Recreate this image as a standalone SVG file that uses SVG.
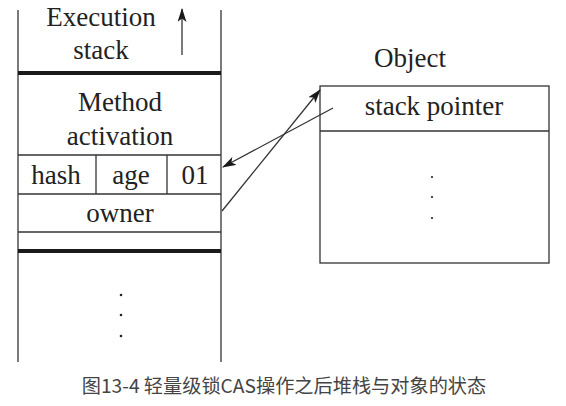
<svg xmlns="http://www.w3.org/2000/svg" width="566" height="406" viewBox="0 0 566 406">
<style>
.t{font-family:"Liberation Serif","Times New Roman",serif;font-size:27px;fill:#222;text-anchor:middle}
.ln{stroke:#333;stroke-width:1.3;fill:none}
.thick{stroke:#1a1a1a;stroke-width:4;fill:none}
.cap{font-family:"Noto Sans CJK SC","Noto Sans",sans-serif;font-size:19.2px;fill:#444;text-anchor:middle}
.dot{fill:#222}
</style>
<defs>
<marker id="ah" viewBox="0 0 14 9" refX="13" refY="4.5" markerWidth="14" markerHeight="9" markerUnits="userSpaceOnUse" orient="auto">
<path d="M0,0 L14,4.5 L0,9 L3.5,4.5 Z" fill="#1a1a1a"/>
</marker>
</defs>
<rect width="566" height="406" fill="#fff"/>
<g id="stack">
<line class="ln" x1="18" y1="10" x2="18" y2="362"/>
<line class="ln" x1="221" y1="10" x2="221" y2="362"/>
<line class="thick" x1="18" y1="73" x2="221" y2="73"/>
<line class="ln" x1="18" y1="155" x2="221" y2="155"/>
<line class="ln" x1="96" y1="155" x2="96" y2="194"/>
<line class="ln" x1="167" y1="155" x2="167" y2="194"/>
<line class="ln" x1="18" y1="194" x2="221" y2="194"/>
<line class="ln" x1="18" y1="232" x2="221" y2="232"/>
<line class="thick" x1="18" y1="251" x2="221" y2="251"/>
<text class="t" x="101" y="26">Execution</text>
<text class="t" x="101" y="59">stack</text>
<line class="ln" x1="182" y1="55" x2="182" y2="9" marker-end="url(#ah)"/>
<text class="t" x="120" y="111">Method</text>
<text class="t" x="120" y="145">activation</text>
<text class="t" x="56" y="184">hash</text>
<text class="t" x="131" y="184">age</text>
<text class="t" x="195" y="184">01</text>
<text class="t" x="120" y="222">owner</text>
<circle class="dot" cx="121" cy="295" r="1.3"/>
<circle class="dot" cx="121" cy="315" r="1.3"/>
<circle class="dot" cx="121" cy="336" r="1.3"/>
</g>
<g id="object">
<text class="t" x="410" y="67">Object</text>
<rect class="ln" x="320" y="86" width="229" height="177"/>
<line class="ln" x1="320" y1="131" x2="549" y2="131"/>
<text class="t" x="434" y="115">stack pointer</text>
<circle class="dot" cx="432" cy="177" r="1.1"/>
<circle class="dot" cx="432" cy="197" r="1.1"/>
<circle class="dot" cx="432" cy="218" r="1.1"/>
</g>
<g id="connectors">
<line class="ln" x1="222" y1="211" x2="320" y2="90" marker-end="url(#ah)"/>
<line class="ln" x1="333" y1="108" x2="223" y2="167" marker-end="url(#ah)"/>
</g>
<text class="cap" x="284" y="393">图13-4 轻量级锁CAS操作之后堆栈与对象的状态</text>
</svg>
